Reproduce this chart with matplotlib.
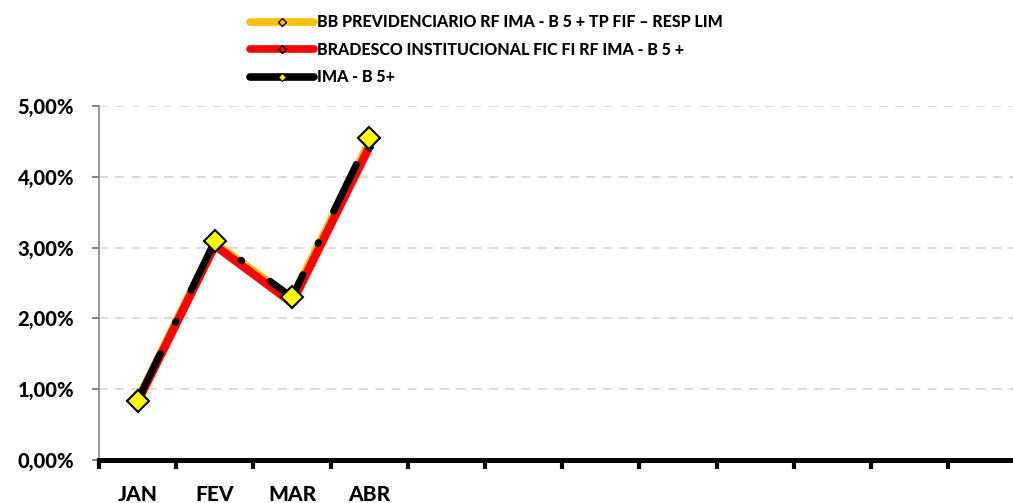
import matplotlib
matplotlib.use("Agg")
import matplotlib.pyplot as plt
from matplotlib.lines import Line2D
from matplotlib.ticker import FuncFormatter, FixedLocator

plt.rcParams['font.family'] = ['Lato', 'DejaVu Sans']
plt.rcParams['font.weight'] = 900

# dados (% acumulado no ano)
meses = ["JAN", "FEV", "MAR", "ABR", "", "", "", "", "", "", "", ""]
bb = [0.84, 3.05, 2.27, 4.47]
bradesco = [0.82, 3.03, 2.22, 4.42]
ima = [0.84, 3.09, 2.30, 4.55]
nomes = ["BB PREVIDENCIARIO RF IMA - B 5 + TP FIF \u2013 RESP LIM",
         "BRADESCO INSTITUCIONAL FIC FI RF IMA - B 5 +",
         "IMA - B 5+"]

fig = plt.figure(figsize=(10.13, 5.03), dpi=100)
ax = fig.add_axes([99 / 1013, 43 / 503, 926.4 / 1013, 354 / 503])

x = list(range(len(bb)))
ax.plot(x, bb, color="#ffc000", lw=6.6, marker="D", ms=4.5,
        mfc="#ffc000", mec="black", mew=1, zorder=2, solid_capstyle="round")
ax.plot(x, bradesco, color="#ff0000", lw=6, marker="D", ms=4.5,
        mfc="#ff0000", mec="black", mew=1, zorder=3, solid_capstyle="round")
ax.plot(x, ima, color="black", lw=5, linestyle=(0, (7.5, 5, 0.15, 5)),
        dash_capstyle="round", zorder=4)
ax.plot(x, ima, linestyle="none", marker="D", ms=11.5, mfc="#ffff00",
        mec="black", mew=1.5, zorder=5)

ax.set_xlim(-0.5, len(meses) - 0.5)
ax.set_ylim(0, 5.0)

# eixo x: marcas entre categorias, rótulos no centro
ax.xaxis.set_major_locator(FixedLocator([i - 0.5 for i in range(len(meses) + 1)]))
ax.xaxis.set_minor_locator(FixedLocator(list(range(len(meses)))))
ax.xaxis.set_major_formatter(FuncFormatter(lambda v, p: ""))
ax.set_xticklabels(meses, minor=True)
ax.tick_params(axis="x", which="major", length=6.5, width=3, color="black",
               direction="out")
ax.tick_params(axis="x", which="minor", length=0, pad=18, labelsize=15)

ax.set_yticks([0, 1, 2, 3, 4, 5])
ax.yaxis.set_major_formatter(FuncFormatter(lambda v, p: f"{v:.2f}%".replace(".", ",")))
ax.tick_params(axis="y", length=5, width=1.5, color="#868686", pad=13,
               labelsize=14.5)

for s in ["top", "right"]:
    ax.spines[s].set_visible(False)
ax.spines["left"].set_color("#868686")
ax.spines["left"].set_linewidth(1.2)
ax.spines["bottom"].set_color("black")
ax.spines["bottom"].set_linewidth(3.6)
ax.spines["bottom"].set_zorder(6)

ax.yaxis.grid(True, color="#d9d9d9", lw=1.3, linestyle=(0, (5, 4)))
ax.set_axisbelow(True)

handles = [
    Line2D([], [], color="#ffc000", lw=5.5, marker="D", ms=4.5, mfc="#ffc000",
           mec="black", mew=1, solid_capstyle="round"),
    Line2D([], [], color="#ff0000", lw=5.5, marker="D", ms=4.5, mfc="#ff0000",
           mec="black", mew=1, solid_capstyle="round"),
    Line2D([], [], color="black", lw=5.5, marker="D", ms=4.5, mfc="#ffff00",
           mec="black", mew=0.8, solid_capstyle="round"),
]
fig.legend(handles, nomes, loc="upper left", bbox_to_anchor=(236 / 1013, 1.0),
           frameon=False, fontsize=11.5, handlelength=4.0, handletextpad=0.2,
           labelspacing=0.72, borderaxespad=0.5)

fig.savefig("out.png", dpi=100)
